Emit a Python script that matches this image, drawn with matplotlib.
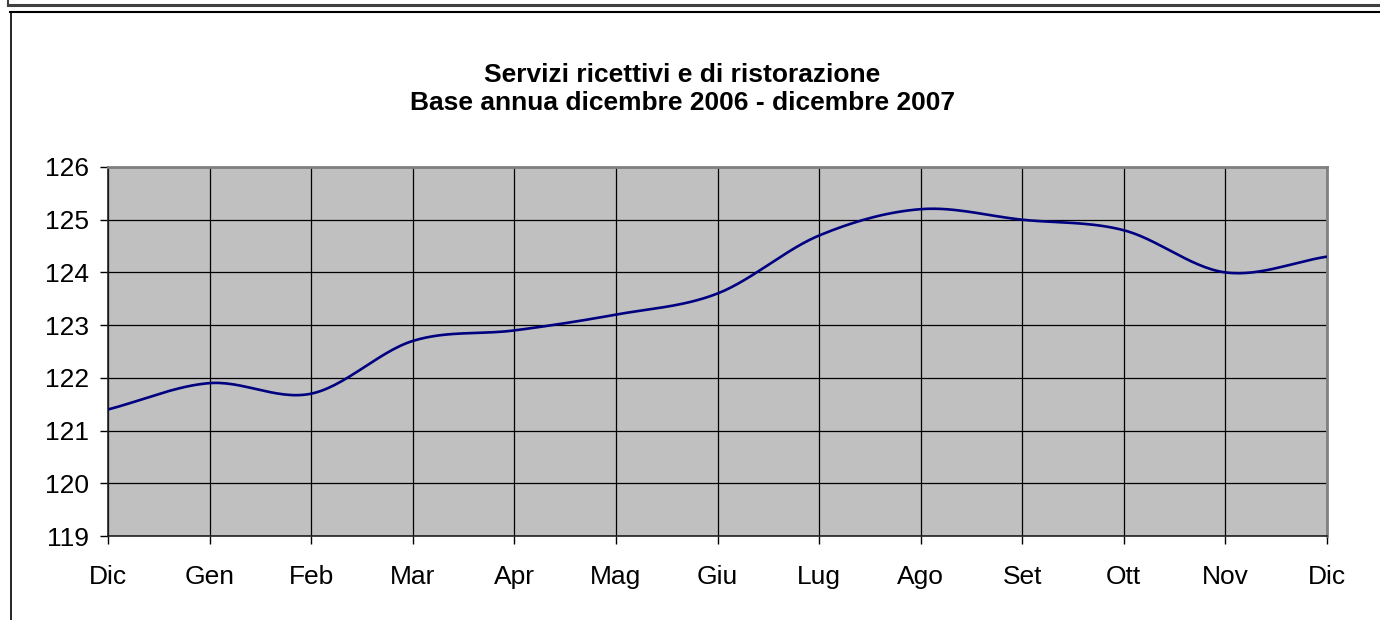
import numpy as np
import matplotlib
matplotlib.use("Agg")
import matplotlib.pyplot as plt
from matplotlib.lines import Line2D

months = ["Dic", "Gen", "Feb", "Mar", "Apr", "Mag", "Giu", "Lug", "Ago", "Set", "Ott", "Nov", "Dic"]
values = [121.4, 121.9, 121.7, 122.7, 122.9, 123.2, 123.6, 124.7, 125.2, 125.0, 124.8, 124.0, 124.3]
yticks = [119, 120, 121, 122, 123, 124, 125, 126]
title_lines = ["Servizi ricettivi e di ristorazione", "Base annua dicembre 2006 - dicembre 2007"]

plt.rcParams['font.family'] = ['Liberation Sans', 'DejaVu Sans']

W, H = 1380, 620
fig = plt.figure(figsize=(W / 100, H / 100), dpi=100)

def fx(px):
    return px / W

def fy(py):
    return 1 - py / H

# outer frame lines
fig.add_artist(Line2D([fx(8), fx(1380)], [fy(5), fy(5)], color="#404040", lw=2.2))
fig.add_artist(Line2D([fx(8), fx(8)], [fy(0), fy(5)], color="#404040", lw=1.5))
fig.add_artist(Line2D([fx(10), fx(1380)], [fy(11.5), fy(11.5)], color="black", lw=1.5))
fig.add_artist(Line2D([fx(10.5), fx(10.5)], [fy(11.5), fy(620)], color="black", lw=1.2))

left, right, top, bottom = 108, 1327, 167, 536
ax = fig.add_axes([fx(left), fy(bottom), fx(right - left), (bottom - top) / H])
ax.set_facecolor("#C0C0C0")

x = np.arange(len(values))

# Excel-style smoothed line (Catmull-Rom through the data points)
def catmull_rom(xs, ys, n=30):
    xs = np.asarray(xs, float)
    ys = np.asarray(ys, float)
    px = np.concatenate([[2 * xs[0] - xs[1]], xs, [2 * xs[-1] - xs[-2]]])
    py = np.concatenate([[2 * ys[0] - ys[1]], ys, [2 * ys[-1] - ys[-2]]])
    outx, outy = [], []
    for i in range(1, len(px) - 2):
        t = np.linspace(0, 1, n, endpoint=False)
        def cr(a0, a1, a2, a3):
            return 0.5 * ((2 * a1) + (-a0 + a2) * t + (2 * a0 - 5 * a1 + 4 * a2 - a3) * t ** 2 + (-a0 + 3 * a1 - 3 * a2 + a3) * t ** 3)
        outx.append(cr(px[i - 1], px[i], px[i + 1], px[i + 2]))
        outy.append(cr(py[i - 1], py[i], py[i + 1], py[i + 2]))
    outx.append([xs[-1]])
    outy.append([ys[-1]])
    return np.concatenate(outx), np.concatenate(outy)

sx, sy = catmull_rom(x, values)
ax.plot(sx, sy, color="#000080", lw=1.9, zorder=3, solid_capstyle="butt")

ax.set_xlim(0, len(values) - 1)
ax.set_ylim(min(yticks), max(yticks))
ax.set_yticks(yticks)
ax.set_xticks(x)
ax.set_xticklabels(months)
ax.grid(True, color="black", lw=0.9, zorder=1)
ax.set_axisbelow(True)

for s in ["top", "right"]:
    ax.spines[s].set_color("#808080")
    ax.spines[s].set_linewidth(2)
for s in ["left", "bottom"]:
    ax.spines[s].set_color("#202020")
    ax.spines[s].set_linewidth(1.2)

ax.tick_params(axis="both", direction="out", length=5.8, width=1.0, color="black", labelsize=19)
ax.tick_params(axis="y", pad=8)
ax.tick_params(axis="x", pad=15)

fig.text(fx(682), fy(75), title_lines[0], ha="center", va="center", fontsize=19, fontweight="bold")
fig.text(fx(682), fy(103), title_lines[1], ha="center", va="center", fontsize=19, fontweight="bold")

fig.savefig("out.png", dpi=100)
